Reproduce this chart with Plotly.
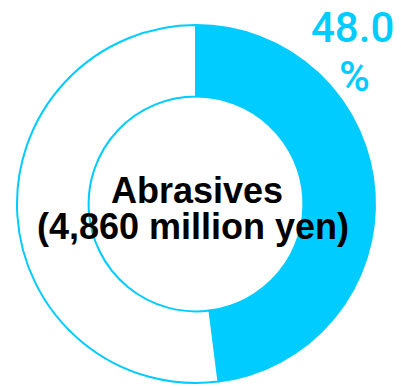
import plotly.graph_objects as go

# Segment share of net sales
segments = ["Abrasives", "Other"]
shares = [48.0, 52.0]
center_title = "Abrasives"
center_amount = "(4,860 million yen)"
share_label = "48.0"

CYAN = "#00CCFF"

fig = go.Figure(
    go.Pie(
        labels=segments,
        values=shares,
        hole=0.6,
        sort=False,
        direction="clockwise",
        rotation=0,
        marker=dict(colors=[CYAN, "white"], line=dict(color=CYAN, width=2)),
        textinfo="none",
        hoverinfo="label+percent",
        showlegend=False,
        domain=dict(x=[17 / 401, 375 / 401], y=[4 / 387, 362 / 387]),
    )
)

ann_font_center = dict(family="Liberation Sans, Arial, sans-serif", size=36, color="black")
ann_font_pct = dict(family="Roboto, sans-serif", size=42, color=CYAN, weight=500)

fig.add_annotation(x=0.492, y=0.509, xref="paper", yref="paper", text=f"<b>{center_title}</b>",
                   showarrow=False, font=ann_font_center, xanchor="center", yanchor="middle")
fig.add_annotation(x=0.482, y=0.416, xref="paper", yref="paper", text=f"<b>{center_amount}</b>",
                   showarrow=False, font=ann_font_center, xanchor="center", yanchor="middle")
fig.add_annotation(x=0.880, y=0.930, xref="paper", yref="paper", text=share_label,
                   showarrow=False, font=ann_font_pct, xanchor="center", yanchor="middle")
fig.add_annotation(x=0.885, y=0.803, xref="paper", yref="paper", text="%",
                   showarrow=False, font=ann_font_pct, xanchor="center", yanchor="middle")

fig.update_layout(
    width=401,
    height=387,
    margin=dict(l=0, r=0, t=0, b=0),
    paper_bgcolor="white",
    plot_bgcolor="white",
)

fig.write_html("out.html")
